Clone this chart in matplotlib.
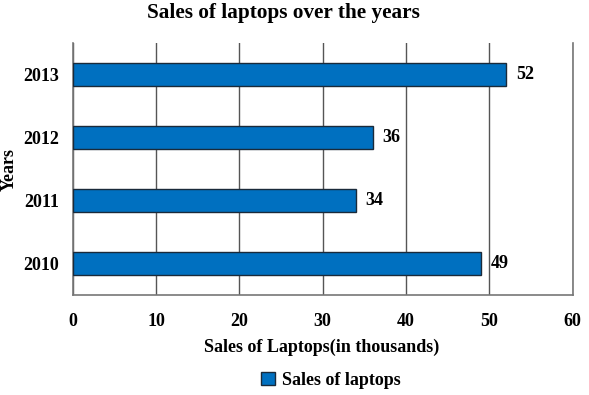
import matplotlib
matplotlib.use('Agg')
import matplotlib.pyplot as plt
from matplotlib.patches import Patch

# data
years = ['2010', '2011', '2012', '2013']
sales = [49, 34, 36, 52]
x_ticks = [0, 10, 20, 30, 40, 50, 60]

plt.rcParams['font.family'] = ['Liberation Serif', 'DejaVu Serif']
plt.rcParams['font.weight'] = 'bold'

fig = plt.figure(figsize=(5.89, 3.95), dpi=100)
ax = fig.add_axes([72.7 / 589, 1 - 295 / 395, 500 / 589, 252 / 395])

pos = list(range(len(years)))
ax.barh(pos, sales, height=0.35, color='#0070C0',
        edgecolor='#1a2a3a', linewidth=1.0, zorder=3)

# value labels next to bars
for p, v in zip(pos, sales):
    ax.annotate(str(v), xy=(v, p), xytext=(7, 0), textcoords='offset points',
                ha='left', va='center', fontsize=13, fontweight='bold')

ax.set_xlim(0, 60)
ax.set_ylim(-0.5, 3.5)
ax.set_xticks(x_ticks)
ax.set_xticklabels([str(t) for t in x_ticks])
ax.set_yticks(pos)
ax.set_yticklabels(years)
ax.tick_params(axis='both', length=0, labelsize=13)
ax.tick_params(axis='x', pad=13)
ax.tick_params(axis='y', pad=10)

ax.grid(axis='x', color='#555555', linewidth=1.0, zorder=0)
for s in ['left', 'bottom', 'right']:
    ax.spines[s].set_color('#777777')
    ax.spines[s].set_linewidth(1.2)
ax.spines['top'].set_visible(False)

fig.text(283.5 / 589, 1 - 13 / 395, 'Sales of laptops over the years',
         ha='center', va='center', fontsize=15.3, fontweight='bold')
fig.text(322 / 589, 1 - 347 / 395, 'Sales of Laptops(in thousands)',
         ha='center', va='center', fontsize=13, fontweight='bold')
fig.text(9 / 589, 1 - 169 / 395, 'Years', rotation=90,
         ha='center', va='center', fontsize=13, fontweight='bold')

handle = Patch(facecolor='#0070C0', edgecolor='#1a2a3a', label='Sales of laptops')
fig.legend(handles=[handle], loc='center', bbox_to_anchor=(331 / 589, 1 - 380.5 / 395),
           frameon=False, fontsize=13, handlelength=0.75, handleheight=0.75,
           handletextpad=0.4)

fig.savefig('out.png', dpi=100)
